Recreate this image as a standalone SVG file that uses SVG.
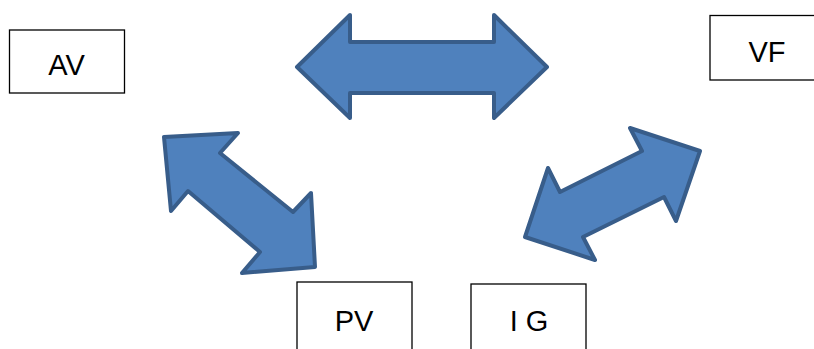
<svg xmlns="http://www.w3.org/2000/svg" width="814" height="349" viewBox="0 0 814 349">
<style>
.box{fill:#fff;stroke:#000;stroke-width:1.3}
.lbl{font-family:"Liberation Sans",Arial,sans-serif;font-size:29px;fill:#000;text-anchor:middle}
.arr{fill:#4f81bd;stroke:#385d8a;stroke-width:4;stroke-linejoin:round}
</style>
<rect width="814" height="349" fill="#fff"/>
<g id="connectors">
<polygon class="arr" points="297,67 350,15 350,42 494,42 494,15 547,67 494,118 494,93 350,93 350,118"/>
<polygon class="arr" points="164,137 238,133 220,153 293,212 311,193 315,267 242,273 260,252 188,191 171,211"/>
<polygon class="arr" points="525,237 548,168 560,192 642,151 630,128 700,151 676,221 664,197 583,237 595,260"/>
</g>
<g id="node-av">
<rect class="box" x="9.5" y="30" width="115" height="63"/>
<text class="lbl" x="66.5" y="75">AV</text>
</g>
<g id="node-vf">
<rect class="box" x="710" y="15.5" width="110" height="64.5"/>
<text class="lbl" x="767" y="62">VF</text>
</g>
<g id="node-pv">
<rect class="box" x="297" y="282" width="115" height="70"/>
<text class="lbl" x="354" y="331">PV</text>
</g>
<g id="node-ig">
<rect class="box" x="471" y="284" width="115" height="70"/>
<text class="lbl" x="529" y="331">I G</text>
</g>
</svg>
